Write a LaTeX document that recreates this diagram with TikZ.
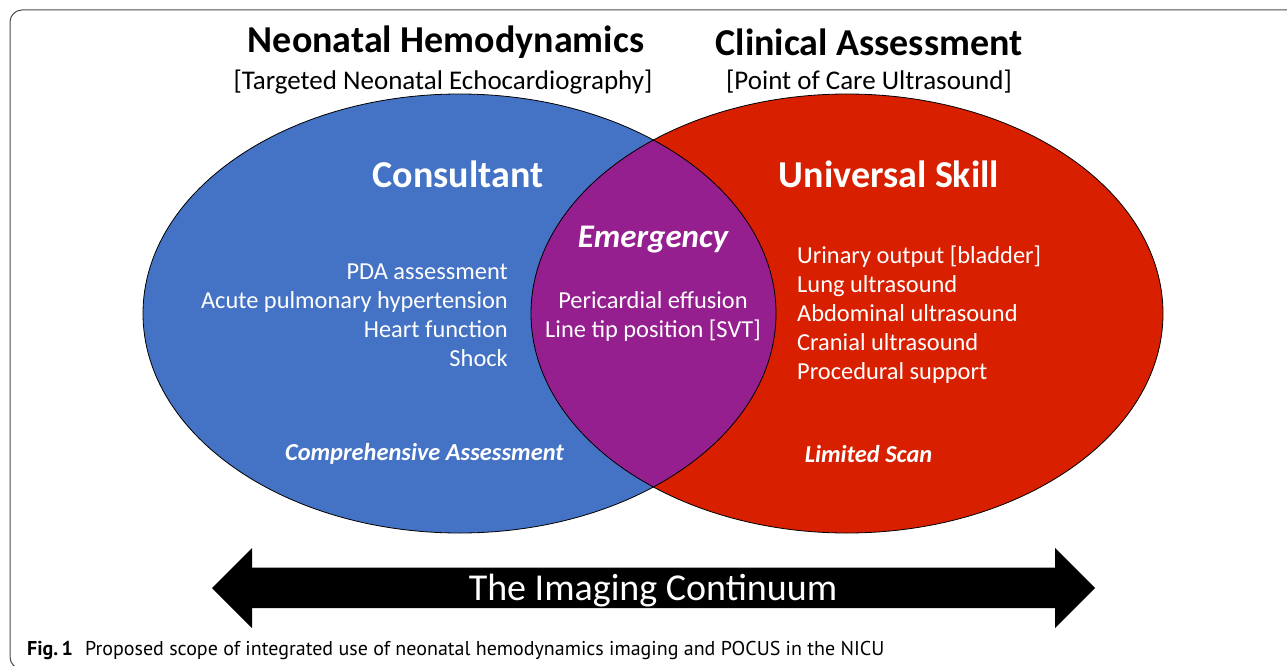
\documentclass[tikz,border=0pt]{standalone}
\usepackage{fontspec}
\setmainfont{Carlito}
\newfontfamily\capfont{PT Sans}
\usetikzlibrary{positioning}
\definecolor{consultblue}{RGB}{68,114,196}
\definecolor{skillred}{RGB}{216,32,0}
\definecolor{emergpurple}{RGB}{149,31,143}

\begin{document}
\begin{tikzpicture}[
        x=1pt, y=-1pt,
        title/.style={font=\fontsize{38}{44}\selectfont\bfseries, inner sep=0pt},
        subtitle/.style={font=\fontsize{27}{32}\selectfont, inner sep=0pt},
        head/.style={font=\fontsize{38}{44}\selectfont\bfseries, text=white, inner sep=0pt},
        items/.style={font=\fontsize{24.4}{29}\selectfont, text=white, inner sep=0pt},
        scope/.style={font=\fontsize{24.4}{29}\selectfont\bfseries\itshape, text=white, inner sep=0pt},
        venn/.style={draw=black, line width=0.8pt}
        ]
        \useasboundingbox (0,0) rectangle (1287,666);
        \draw[rounded corners=12pt, line width=1pt, black!70] (10,10) rectangle (1320,669);

        \fill[consultblue] (459.5,313.5) ellipse [x radius=316.5pt, y radius=219.5pt];
        \fill[skillred] (847,313.5) ellipse [x radius=316pt, y radius=219.5pt];
        \begin{scope}
            \clip (459.5,313.5) ellipse [x radius=316.5pt, y radius=219.5pt];
            \fill[emergpurple] (847,313.5) ellipse [x radius=316pt, y radius=219.5pt];
        \end{scope}
        \draw[venn] (459.5,313.5) ellipse [x radius=316.5pt, y radius=219.5pt];
        \draw[venn] (847,313.5) ellipse [x radius=316pt, y radius=219.5pt];

        \node[title] (hemo) at (446,42.5) {Neonatal Hemodynamics};
        \node[subtitle] (tnecho) at (443,82) {[Targeted Neonatal Echocardiography]};
        \node[title] (clinical) at (869,42.5) {Clinical Assessment};
        \node[subtitle] (pocus) at (869,82) {[Point of Care Ultrasound]};

        \node[head] (consultant) at (458,174) {Consultant};
        \node[head] (universal) at (889,174) {Universal Skill};
        \node[head, font=\fontsize{33}{40}\selectfont\bfseries\itshape] (emergency) at (653,240) {Emergency};

        \node[items, align=right, anchor=east] (hemolist) at (508,315)
            {PDA assessment\\Acute pulmonary hypertension\\Heart function\\Shock};
        \node[items, align=center] (emerglist) at (653,316)
            {Pericardial effusion\\Line tip position [SVT]};
        \node[items, align=left, anchor=west] (pocuslist) at (797,315)
            {Urinary output [bladder]\\Lung ultrasound\\Abdominal ultrasound\\Cranial ultrasound\\Procedural support};

        \node[scope] (comprehensive) at (424.5,454) {Comprehensive Assessment};
        \node[scope] (limited) at (868.5,454) {Limited Scan};

        \fill[black] (212,588) -- (252,548) -- (252,567.5) -- (1055,567.5) -- (1055,548)
            -- (1095,588) -- (1055,628) -- (1055,608) -- (252,608) -- (252,628) -- cycle;
        \node[font=\fontsize{38}{44}\selectfont, text=white, inner sep=0pt] (continuum) at (653,591) {The Imaging Continuum};

        \node[anchor=west, font=\capfont\fontsize{20}{24}\selectfont, inner sep=0pt] (caption) at (27,650)
            {\textbf{Fig.\,1}\hspace{12pt}Proposed scope of integrated use of neonatal hemodynamics imaging and POCUS in the NICU};
\end{tikzpicture}
\end{document}
